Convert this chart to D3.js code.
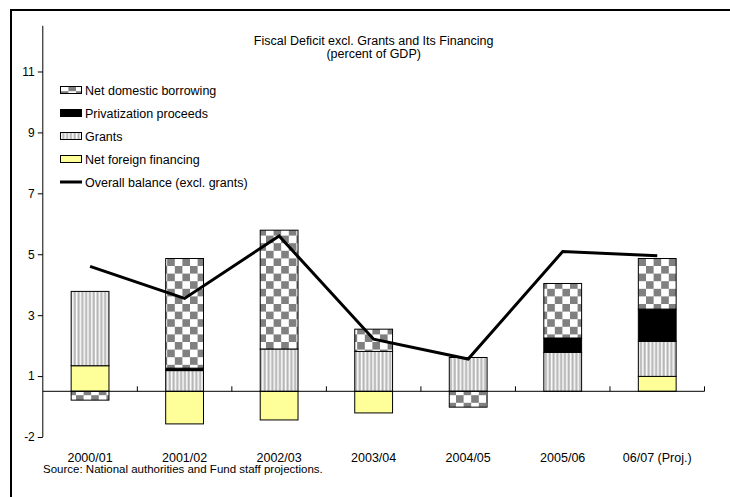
<!DOCTYPE html>
<html>
<head>
<meta charset="utf-8">
<script src="https://cdn.jsdelivr.net/npm/d3@7"></script>
<style>
  html, body { margin: 0; padding: 0; background: #fff; }
  svg { display: block; font-family: "Liberation Sans", Arial, sans-serif; }
</style>
</head>
<body>
<svg id="chart" width="730" height="497"></svg>
<script>
// Fiscal years on the category axis
const categories = ["2000/01", "2001/02", "2002/03", "2003/04", "2004/05", "2005/06", "06/07 (Proj.)"];

// Financing components, percent of GDP
const netForeignFinancing   = [0.84, -1.07, -0.94, -0.71, 0.00, 0.00, 0.49];
const grants                = [2.44, 0.68, 1.39, 1.31, 1.11, 1.28, 1.15];
const privatizationProceeds = [0.00, 0.08, 0.00, 0.00, 0.00, 0.47, 1.06];
const netDomesticBorrowing  = [-0.29, 3.60, 3.90, 0.73, -0.52, 1.79, 1.66];

// Overall balance excluding grants
const overallBalance = [4.10, 3.05, 5.10, 1.71, 1.06, 4.59, 4.45];

// Value axis: tick positions and the labels printed beside them
const yTickValues = [-1.5, 0.5, 2.5, 4.5, 6.5, 8.5, 10.5];
const yTickLabels = ["-2", "1", "3", "5", "7", "9", "11"];

const svg = d3.select("#chart");

// Chart frame
svg.append("rect")
  .attr("x", 11).attr("y", 10)
  .attr("width", 740).attr("height", 500)
  .attr("fill", "none").attr("stroke", "#000").attr("stroke-width", 2);

// Fill patterns
const defs = svg.append("defs");
const checker = defs.append("pattern")
  .attr("id", "checker").attr("patternUnits", "userSpaceOnUse")
  .attr("width", 15.2).attr("height", 15.2);
checker.append("rect").attr("width", 15.2).attr("height", 15.2).attr("fill", "#fff");
checker.append("rect").attr("width", 7.6).attr("height", 7.6).attr("fill", "#808080");
checker.append("rect").attr("x", 7.6).attr("y", 7.6).attr("width", 7.6).attr("height", 7.6).attr("fill", "#808080");

const stripes = defs.append("pattern")
  .attr("id", "stripes").attr("patternUnits", "userSpaceOnUse")
  .attr("width", 3.8).attr("height", 10);
stripes.append("rect").attr("width", 3.8).attr("height", 10).attr("fill", "#d0d0d0");
stripes.append("rect").attr("x", 0).attr("width", 1.2).attr("height", 10).attr("fill", "#fbfbfb");
stripes.append("rect").attr("x", 2.2).attr("width", 0.9).attr("height", 10).attr("fill", "#a8a8a8");

const plot = { left: 42.8, right: 704.5, top: 25.8, bottom: 437 };

const x = d3.scaleBand()
  .domain(categories)
  .range([plot.left, plot.right])
  .paddingInner(0.6)
  .paddingOuter(0.3);

const y = d3.scaleLinear()
  .domain([-1.5, 12])
  .range([plot.bottom, plot.top]);

// Series in stacking order, bottom to top
const series = [
  { name: "Net foreign financing",  values: netForeignFinancing,   fill: "#ffff99" },
  { name: "Grants",                 values: grants,                fill: "url(#stripes)" },
  { name: "Privatization proceeds", values: privatizationProceeds, fill: "#000" },
  { name: "Net domestic borrowing", values: netDomesticBorrowing,  fill: "url(#checker)" }
];

const rows = categories.map((c, i) => {
  const r = { category: c };
  series.forEach(s => { r[s.name] = s.values[i]; });
  return r;
});

const stacked = d3.stack()
  .keys(series.map(s => s.name))
  .offset(d3.stackOffsetDiverging)(rows);

// Bars
const barG = svg.append("g");
stacked.forEach((layer, li) => {
  barG.append("g")
    .selectAll("rect")
    .data(layer.filter(d => d[1] - d[0] !== 0))
    .join("rect")
    .attr("x", d => x(d.data.category))
    .attr("width", x.bandwidth())
    .attr("y", d => y(Math.max(d[0], d[1])))
    .attr("height", d => Math.abs(y(d[0]) - y(d[1])))
    .attr("fill", series[li].fill)
    .attr("stroke", "#000")
    .attr("stroke-width", 1);
});

// Category axis at zero, ticks pointing into the plot
const zeroY = y(0);
svg.append("line")
  .attr("x1", plot.left).attr("x2", plot.right)
  .attr("y1", zeroY).attr("y2", zeroY)
  .attr("stroke", "#000").attr("stroke-width", 1);
const bounds = d3.range(1, categories.length + 1).map(i => plot.left + i * x.step());
svg.append("g").selectAll("line")
  .data(bounds)
  .join("line")
  .attr("x1", d => d).attr("x2", d => d)
  .attr("y1", zeroY - 5).attr("y2", zeroY)
  .attr("stroke", "#000");

// Category labels below the plot
svg.append("g").selectAll("text")
  .data(categories)
  .join("text")
  .attr("x", d => x(d) + x.bandwidth() / 2)
  .attr("y", 461.5)
  .attr("text-anchor", "middle")
  .attr("font-size", "12.5px")
  .text(d => d);

// Value axis
const yAxis = d3.axisLeft(y)
  .tickValues(yTickValues)
  .tickFormat((d, i) => yTickLabels[i])
  .tickSize(5)
  .tickPadding(3);
const yG = svg.append("g")
  .attr("transform", `translate(${plot.left},0)`)
  .call(yAxis);
yG.selectAll(".domain").attr("d", `M0,${plot.top}V${plot.bottom}`).attr("stroke", "#000");
yG.selectAll("text").attr("font-size", "12px").attr("font-family", "Liberation Sans, Arial, sans-serif").attr("fill", "#000");
yG.selectAll(".tick line").attr("stroke", "#000");

// Overall balance line
const line = d3.line()
  .x((d, i) => x(categories[i]) + x.bandwidth() / 2)
  .y(d => y(d));
svg.append("path")
  .datum(overallBalance)
  .attr("d", line)
  .attr("fill", "none")
  .attr("stroke", "#000")
  .attr("stroke-width", 3)
  .attr("stroke-linejoin", "miter");

// Title
const title = svg.append("text")
  .attr("text-anchor", "middle")
  .attr("font-size", "12.5px");
title.append("tspan").attr("x", (plot.left + plot.right) / 2).attr("y", 44.5).text("Fiscal Deficit excl. Grants and Its Financing");
title.append("tspan").attr("x", (plot.left + plot.right) / 2).attr("y", 57.5).text("(percent of GDP)");

// Legend
const legendItems = [
  { label: "Net domestic borrowing", fill: "url(#checker)" },
  { label: "Privatization proceeds", fill: "#000" },
  { label: "Grants", fill: "url(#stripes)" },
  { label: "Net foreign financing", fill: "#ffff99" },
  { label: "Overall balance (excl. grants)", line: true }
];
const legend = svg.append("g");
legendItems.forEach((it, i) => {
  const cy = 90 + i * 23;
  if (it.line) {
    legend.append("line")
      .attr("x1", 60).attr("x2", 82)
      .attr("y1", cy).attr("y2", cy)
      .attr("stroke", "#000").attr("stroke-width", 3);
  } else {
    legend.append("rect")
      .attr("x", 60.5).attr("y", cy - 3.5)
      .attr("width", 21).attr("height", 7)
      .attr("fill", it.fill)
      .attr("stroke", "#000").attr("stroke-width", 1);
  }
  legend.append("text")
    .attr("x", 85).attr("y", cy + 4.5)
    .attr("font-size", "12.5px")
    .text(it.label);
});

// Source note
svg.append("text")
  .attr("x", 43).attr("y", 473)
  .attr("font-size", "11.5px")
  .text("Source: National authorities and Fund staff projections.");
</script>
</body>
</html>
